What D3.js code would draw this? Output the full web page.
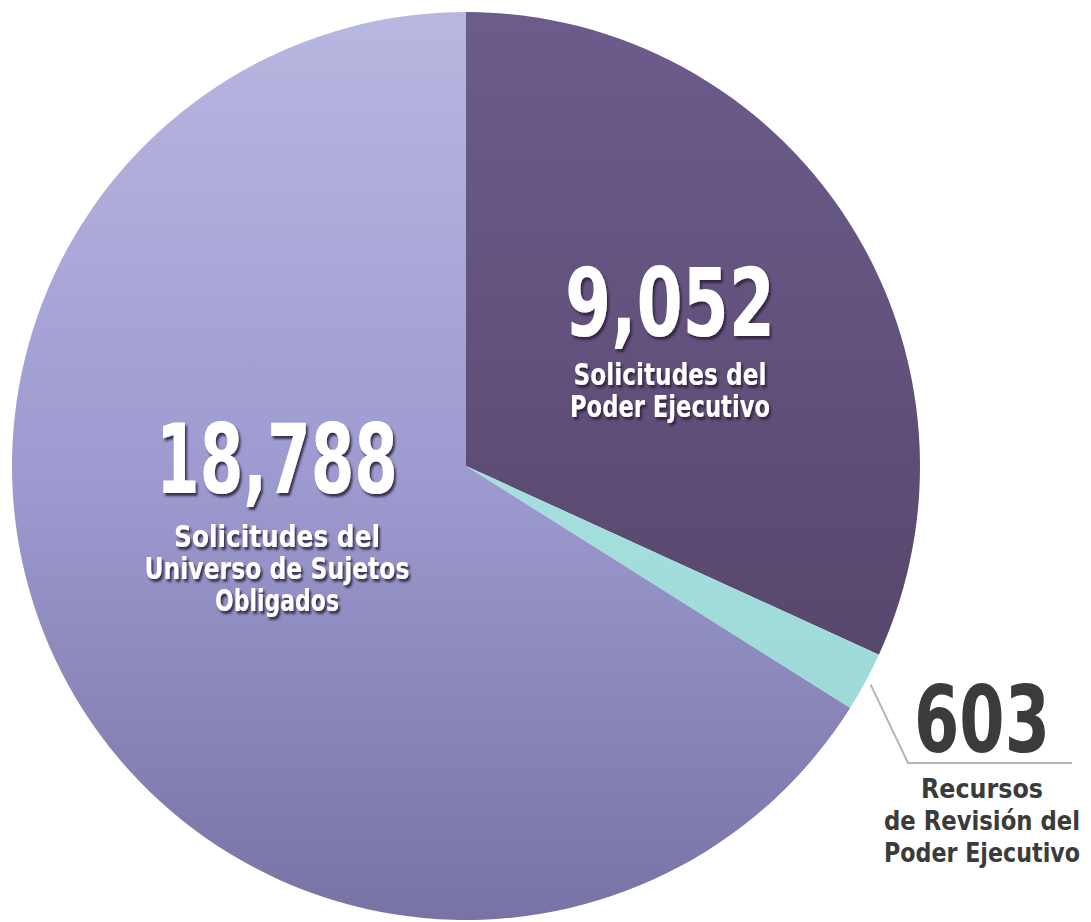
<!DOCTYPE html>
<html>
<head>
<meta charset="utf-8">
<script src="https://cdn.jsdelivr.net/npm/d3@7"></script>
<style>
  html, body { margin: 0; padding: 0; background: #ffffff; }
  text { font-family: "Liberation Sans Narrow", "DejaVu Sans Condensed", "Roboto", sans-serif; font-weight: bold; }
</style>
</head>
<body>
<div id="chart"></div>
<script>
// Pie slices, clockwise from 12 o'clock
const categories = ["Poder Ejecutivo", "Recursos de Revisión", "Universo de Sujetos Obligados"];
const values = [9052, 603, 18788];
const numberLabels = ["9,052", "603", "18,788"];
const captionLines = [
    ["Solicitudes del", "Poder Ejecutivo"],
    ["Recursos", "de Revisión del", "Poder Ejecutivo"],
    ["Solicitudes del", "Universo de Sujetos", "Obligados"]
];

const width = 1091, height = 922;
const cx = 466, cy = 466, radius = 454;

const svg = d3.select("#chart")
    .append("svg")
    .attr("width", width)
    .attr("height", height);

const defs = svg.append("defs");

// vertical gradients per slice (in the pie group's coordinates)
const gradStops = [
    [["0%", "#6c5c8c"], ["100%", "#4f3f60"]],
    [["0%", "#b4ecea"], ["100%", "#96d4d2"]],
    [["0%", "#b8b7e1"], ["50%", "#9d9bd0"], ["100%", "#7773a5"]]
];
gradStops.forEach((stops, i) => {
    const grad = defs.append("linearGradient")
        .attr("id", `slice-grad-${i}`)
        .attr("gradientUnits", "userSpaceOnUse")
        .attr("x1", 0).attr("y1", -radius)
        .attr("x2", 0).attr("y2", radius);
    stops.forEach(s => grad.append("stop").attr("offset", s[0]).attr("stop-color", s[1]));
});

const shadow = defs.append("filter")
    .attr("id", "txt-shadow")
    .attr("x", "-10%").attr("y", "-10%")
    .attr("width", "130%").attr("height", "130%");
shadow.append("feDropShadow")
    .attr("dx", 2).attr("dy", 3)
    .attr("stdDeviation", 0.8)
    .attr("flood-color", "#2a2238")
    .attr("flood-opacity", 0.85);

const pie = d3.pie().sort(null).value(d => d);
const arc = d3.arc().innerRadius(0).outerRadius(radius);

const g = svg.append("g").attr("transform", `translate(${cx},${cy})`);

g.selectAll("path")
    .data(pie(values))
    .enter()
    .append("path")
    .attr("d", arc)
    .attr("fill", (d, i) => `url(#slice-grad-${i})`);

// label layout per slice
const labels = [
    { x: 670, nb: 336, nw: 210, ns: 94, cs: 30, cb: 385, step: 32, cw: [193, 200], fill: "#ffffff", shadow: true },
    { x: 982, nb: 752, nw: 136, ns: 92, cs: 26, cb: 798, step: 32, cw: [122, 196, 196], fill: "#3b3b3b", shadow: false },
    { x: 277, nb: 493, nw: 242, ns: 96, cs: 30, cb: 547, step: 32, cw: [206, 265, 124], fill: "#ffffff", shadow: true }
];

const labelGroup = svg.append("g").attr("class", "labels");

labels.forEach((L, i) => {
    const lg = labelGroup.append("g")
        .attr("filter", L.shadow ? "url(#txt-shadow)" : null);

    lg.append("text")
        .attr("x", L.x)
        .attr("y", L.nb)
        .attr("text-anchor", "middle")
        .attr("font-size", L.ns)
        .attr("textLength", L.nw)
        .attr("lengthAdjust", "spacingAndGlyphs")
        .attr("fill", L.fill)
        .text(numberLabels[i]);

    captionLines[i].forEach((line, j) => {
        lg.append("text")
            .attr("x", L.x)
            .attr("y", L.cb + j * L.step)
            .attr("text-anchor", "middle")
            .attr("font-size", L.cs)
            .attr("textLength", L.cw[j])
            .attr("lengthAdjust", "spacingAndGlyphs")
            .attr("fill", L.fill)
            .text(line);
    });
});

// leader line for the small slice
const small = pie(values)[1];
const mid = (small.startAngle + small.endAngle) / 2;
const sx = cx + Math.sin(mid) * (radius + 6);
const sy = cy - Math.cos(mid) * (radius + 6);
svg.append("polyline")
    .attr("points", `${sx},${sy} 908,763 1072,763`)
    .attr("fill", "none")
    .attr("stroke", "#b5b5b5")
    .attr("stroke-width", 2);
</script>
</body>
</html>
